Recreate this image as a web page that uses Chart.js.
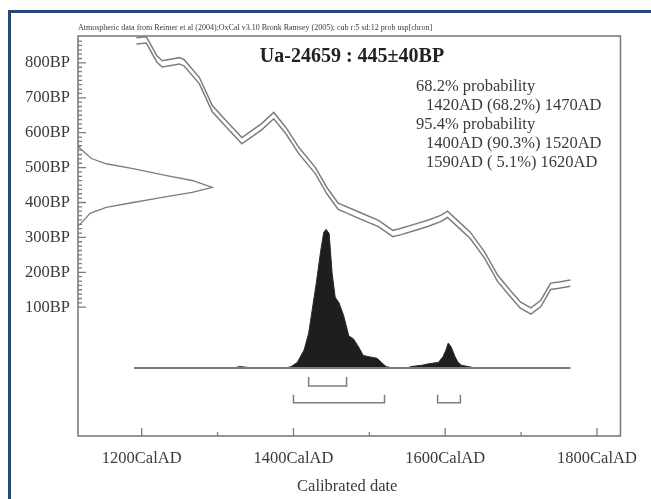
<!DOCTYPE html>
<html>
<head>
<meta charset="utf-8">
<script src="https://cdn.jsdelivr.net/npm/chart.js@4/dist/chart.umd.min.js"></script>
<style>
  html, body { margin: 0; padding: 0; background: #fff; }
</style>
</head>
<body>
<canvas id="c" width="651" height="499"></canvas>
<script>
// axis labels
const xLabelYears = [1200, 1400, 1600, 1800];
const yLabelBP = [100, 200, 300, 400, 500, 600, 700, 800];

// calibration curve (cal AD vs radiocarbon BP)
const calYears = [1193, 1206, 1220, 1227, 1250, 1256, 1276, 1293, 1311, 1332, 1358, 1374, 1390, 1407, 1429, 1444, 1459, 1490, 1512, 1531, 1542, 1560, 1577, 1594, 1603, 1619, 1633, 1652, 1669, 1682, 1699, 1713, 1726, 1739, 1750, 1765];
const calBP    = [863, 866, 811, 797, 806, 800, 749, 669, 626, 577, 617, 649, 606, 549, 491, 434, 389, 360, 340, 311, 317, 329, 340, 354, 366, 334, 306, 249, 183, 149, 106, 89, 111, 160, 163, 169];
const calErr   = [9, 9, 9, 9, 9, 9, 9, 9, 9, 9, 9, 9, 9, 9, 9, 9, 9, 9, 9, 9, 9, 9, 9, 9, 9, 9, 9, 9, 9, 9, 9, 9, 9, 9, 9, 9];

// measured date 445 +/- 40 BP, relative density drawn on the y axis
const gaussBP      = [570, 557, 543, 526, 511, 497, 477, 463, 443, 429, 417, 400, 386, 369, 343, 333];
const gaussDensity = [0, 0.01, 0.05, 0.10, 0.21, 0.41, 0.66, 0.85, 1.0, 0.85, 0.66, 0.41, 0.21, 0.09, 0.03, 0];

// calibrated distribution (relative probability)
const distYears = [1190, 1320, 1330, 1345, 1390, 1397, 1405, 1414, 1420, 1430, 1436, 1440, 1443, 1447, 1451, 1455, 1460, 1466, 1473, 1479, 1486, 1492, 1500, 1510, 1516, 1522, 1530, 1550, 1555, 1570, 1578, 1591, 1597, 1601, 1604, 1608, 1613, 1617, 1621, 1630, 1640, 1765];
const distProb  = [0, 0, 0.01, 0, 0, 0.01, 0.04, 0.13, 0.25, 0.61, 0.85, 0.98, 1.0, 0.97, 0.68, 0.51, 0.47, 0.38, 0.23, 0.21, 0.15, 0.09, 0.08, 0.07, 0.04, 0.01, 0, 0, 0.01, 0.02, 0.03, 0.04, 0.08, 0.13, 0.18, 0.15, 0.08, 0.04, 0.02, 0.01, 0, 0];

// probability ranges
const range68 = [[1420, 1470]];
const range95 = [[1400, 1520], [1590, 1620]];

const title = 'Ua-24659 : 445\u00b140BP';
const subtitle = 'Atmospheric data from Reimer et al (2004);OxCal v3.10 Bronk Ramsey (2005); cub r:5 sd:12 prob usp[chron]';
const probText = [
  ['68.2% probability', 0],
  ['1420AD (68.2%) 1470AD', 1],
  ['95.4% probability', 0],
  ['1400AD (90.3%) 1520AD', 1],
  ['1590AD ( 5.1%) 1620AD', 1],
];

const X_MIN = 1116, X_MAX = 1831;
const Y_MIN = -269, Y_MAX = 877;
const DIST_BASE = -74, DIST_HEIGHT = 397;
const GAUSS_SPAN = 177;
const LINE = '#7d7d7d';
const TEXT = '#3a3a3a';

const calUpper = calYears.map((x, i) => ({ x, y: calBP[i] + calErr[i] }));
const calLower = calYears.map((x, i) => ({ x, y: calBP[i] - calErr[i] }));
const gaussPts = gaussBP.map((y, i) => ({ x: X_MIN + gaussDensity[i] * GAUSS_SPAN, y }));
const distPts = distYears.map((x, i) => ({ x, y: DIST_BASE + distProb[i] * DIST_HEIGHT }));
const basePts = [{ x: distYears[0], y: DIST_BASE }, { x: distYears[distYears.length - 1], y: DIST_BASE }];

function bracket(r, top, bottom) {
  return [{ x: r[0], y: top }, { x: r[0], y: bottom }, { x: r[1], y: bottom }, { x: r[1], y: top }];
}

const lineDs = (data, extra) => Object.assign({
  data, borderColor: LINE, borderWidth: 1.5, pointRadius: 0, tension: 0, fill: false,
}, extra);

const datasets = [
  lineDs(calUpper),
  lineDs(calLower),
  lineDs(gaussPts, { borderWidth: 1.3 }),
  lineDs(basePts, { borderWidth: 2 }),
  lineDs(distPts, { borderColor: '#2a2a2a', borderWidth: 1, backgroundColor: '#1e1e1e', fill: { value: DIST_BASE } }),
];
range68.forEach(r => datasets.push(lineDs(bracket(r, -100, -126))));
range95.forEach(r => datasets.push(lineDs(bracket(r, -151, -174))));

const decor = {
  id: 'decor',
  beforeDraw(chart) {
    const ctx = chart.ctx;
    ctx.save();
    ctx.fillStyle = '#fff';
    ctx.fillRect(0, 0, chart.width, chart.height);
    ctx.restore();
  },
  afterDraw(chart) {
    const { ctx, chartArea: a, scales: { x, y } } = chart;
    ctx.save();
    // plot frame
    ctx.strokeStyle = LINE;
    ctx.lineWidth = 1.6;
    ctx.strokeRect(a.left, a.top, a.right - a.left, a.bottom - a.top);

    // inward tick marks
    ctx.lineWidth = 1.3;
    ctx.beginPath();
    for (let v = 1200; v <= 1800; v += 100) {
      const px = x.getPixelForValue(v);
      const len = v % 200 === 0 ? 8 : 4;
      ctx.moveTo(px, a.bottom);
      ctx.lineTo(px, a.bottom - len);
    }
    for (let v = 100; v <= 870; v += 12.5) {
      const py = y.getPixelForValue(v);
      const len = v % 100 === 0 ? 8 : 4;
      ctx.moveTo(a.left, py);
      ctx.lineTo(a.left + len, py);
    }
    ctx.stroke();

    // texts
    ctx.fillStyle = TEXT;
    ctx.textBaseline = 'middle';
    ctx.font = '8px "Liberation Serif"';
    ctx.fillText(subtitle, a.left, 28);
    ctx.fillStyle = '#222';
    ctx.font = 'bold 20px "Liberation Serif"';
    ctx.textAlign = 'center';
    ctx.fillText(title, 352, 57);
    ctx.textAlign = 'left';
    ctx.fillStyle = TEXT;
    ctx.font = '16.5px "Liberation Serif"';
    probText.forEach((t, i) => ctx.fillText(t[0], t[1] ? 426 : 416, 87 + i * 19));

    // outer blue border
    ctx.strokeStyle = '#1d4a86';
    ctx.lineWidth = 3;
    ctx.beginPath();
    ctx.moveTo(9.5, 510);
    ctx.lineTo(9.5, 11.5);
    ctx.lineTo(660, 11.5);
    ctx.stroke();
    ctx.restore();
  },
};

new Chart(document.getElementById('c').getContext('2d'), {
  type: 'line',
  data: { datasets },
  options: {
    responsive: false,
    animation: false,
    layout: { padding: { left: 0, top: 36, right: 27, bottom: 0 } },
    plugins: { legend: { display: false }, tooltip: { enabled: false } },
    scales: {
      x: {
        type: 'linear',
        min: X_MIN,
        max: X_MAX,
        grid: { display: false, drawTicks: false },
        border: { display: false },
        afterBuildTicks: s => { s.ticks = xLabelYears.map(v => ({ value: v })); },
        afterFit: s => { s.height = 63; },
        ticks: {
          padding: 13,
          maxRotation: 0,
          autoSkip: false,
          color: TEXT,
          font: { family: '"Liberation Serif"', size: 16.5 },
          callback: v => v + 'CalAD',
        },
      },
      y: {
        type: 'linear',
        min: Y_MIN,
        max: Y_MAX,
        grid: { display: false, drawTicks: false },
        border: { display: false },
        afterBuildTicks: s => { s.ticks = yLabelBP.map(v => ({ value: v })); },
        afterFit: s => { s.width = 78; },
        ticks: {
          padding: 8,
          color: TEXT,
          font: { family: '"Liberation Serif"', size: 16.5 },
          callback: v => v + 'BP',
        },
      },
    },
  },
  plugins: [decor, {
    id: 'xtitle',
    afterDraw(chart) {
      const { ctx, chartArea: a } = chart;
      ctx.save();
      ctx.fillStyle = TEXT;
      ctx.font = '16.5px "Liberation Serif"';
      ctx.textAlign = 'center';
      ctx.textBaseline = 'middle';
      ctx.fillText('Calibrated date', (a.left + a.right) / 2 - 2, 487);
      ctx.restore();
    },
  }],
});
</script>
</body>
</html>
